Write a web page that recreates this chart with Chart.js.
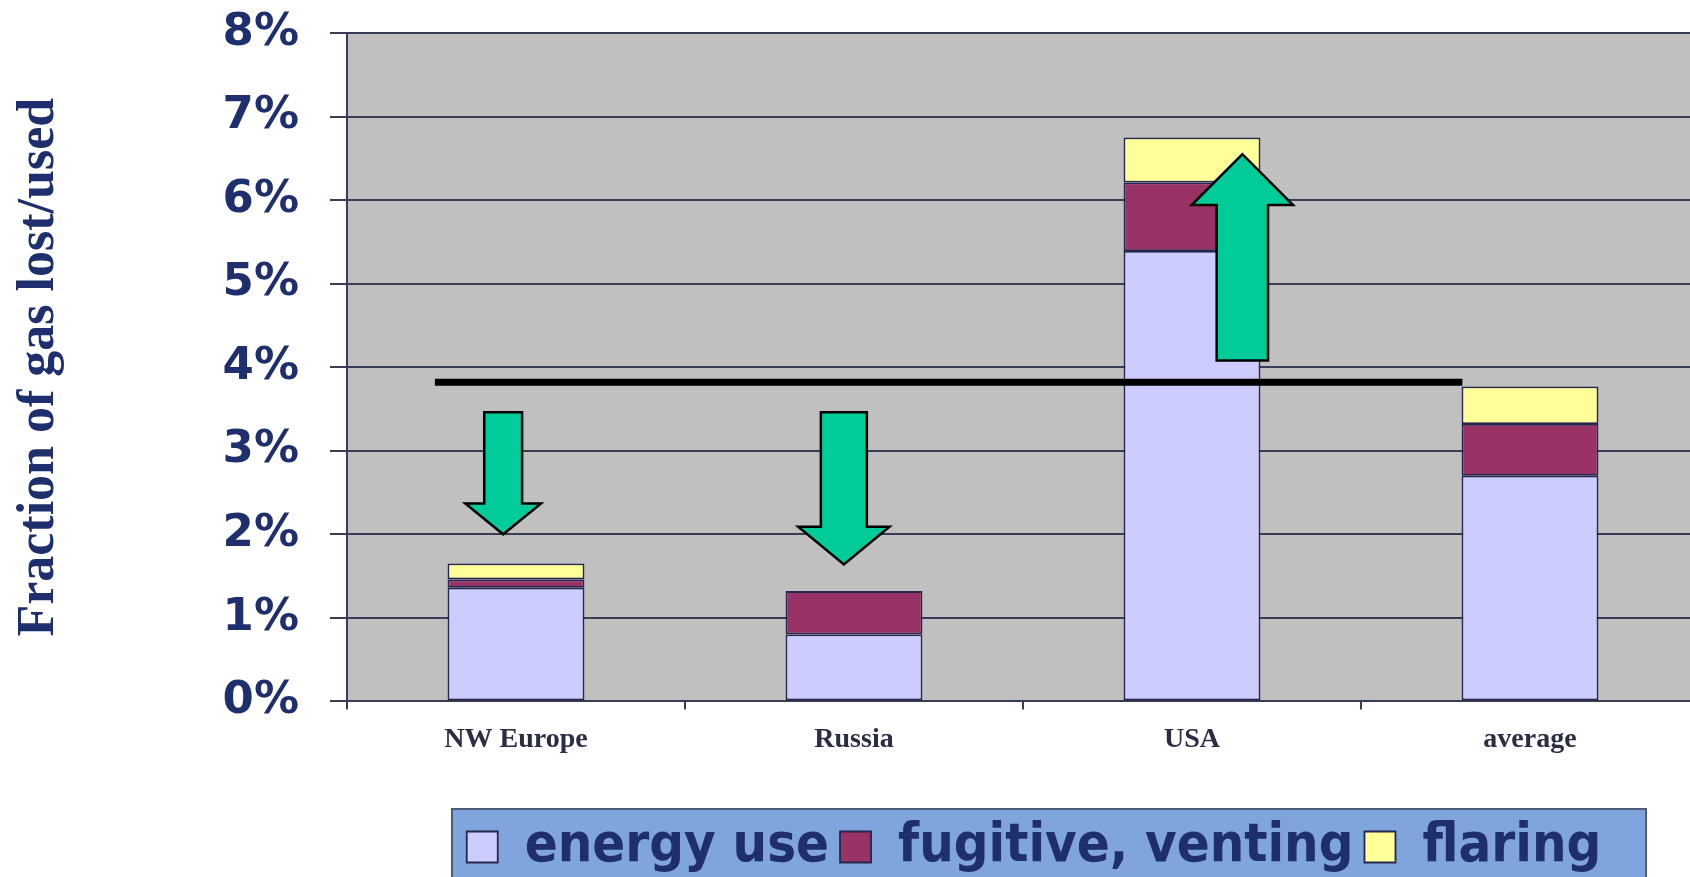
<!DOCTYPE html>
<html>
<head>
<meta charset="utf-8">
<script src="https://cdn.jsdelivr.net/npm/chart.js@4.4.1/dist/chart.umd.min.js"></script>
<style>
html, body { margin: 0; padding: 0; background: #ffffff; overflow: hidden; }
canvas { display: block; }
</style>
</head>
<body>
<canvas id="c" width="1700" height="877" style="width:1700px;height:877px"></canvas>
<script>
// ---- data ----
const categories = ['NW Europe', 'Russia', 'USA', 'average'];
const energyUse = [1.36, 0.80, 5.39, 2.70];
const fugitiveVenting = [0.10, 0.52, 0.82, 0.62];
const flaring = [0.19, 0.00, 0.54, 0.45];
const seriesNames = ['energy use', 'fugitive, venting', 'flaring'];
const yTickLabels = ['0%', '1%', '2%', '3%', '4%', '5%', '6%', '7%', '8%'];
const yAxisTitle = 'Fraction of gas lost/used';

// ---- annotations (x in category-index units, y in percent) ----
const refLineFrom = [-0.24];
const refLineTo = [2.80];
const refLineValue = [3.82];
const arrowX = [-0.038, 0.970, 2.149];
const arrowTail = [3.46, 3.46, 4.08];
const arrowHeadBase = [2.37, 2.09, 5.94];
const arrowTip = [2.00, 1.64, 6.55];
const arrowShaftHalf = [0.056, 0.068, 0.076];
const arrowHeadHalf = [0.112, 0.135, 0.150];

const NAVY = '#1f2f6e';
const GRID = '#383d55';

// legend panel frame
const legendPanel = { left: 452, right: 1646, top: 809 };

const backgrounds = {
  id: 'backgrounds',
  afterLayout(chart) {
    const lg = chart.legend;
    lg.left = legendPanel.left - 15;
    lg.right = legendPanel.right - 15;
    lg.top = legendPanel.top;
    lg.bottom = chart.height;
  },
  beforeDraw(chart) {
    const { ctx, chartArea: a } = chart;
    ctx.save();
    ctx.fillStyle = '#C0C0C0';
    ctx.fillRect(a.left, a.top, a.right - a.left, a.bottom - a.top);
    const p = legendPanel;
    ctx.fillStyle = '#80A4DC';
    ctx.fillRect(p.left, p.top, p.right - p.left, chart.height - p.top + 10);
    ctx.strokeStyle = '#4e5c7a';
    ctx.lineWidth = 2;
    ctx.strokeRect(p.left, p.top, p.right - p.left, chart.height - p.top + 10);
    ctx.restore();
  }
};

const annotations = {
  id: 'annotations',
  afterDatasetsDraw(chart) {
    const { ctx, scales: { x, y } } = chart;
    const catW = x.getPixelForValue(1) - x.getPixelForValue(0);
    ctx.save();
    ctx.strokeStyle = '#000';
    ctx.lineWidth = 7;
    ctx.lineCap = 'butt';
    for (let i = 0; i < refLineValue.length; i++) {
      ctx.beginPath();
      ctx.moveTo(x.getPixelForValue(refLineFrom[i]), y.getPixelForValue(refLineValue[i]));
      ctx.lineTo(x.getPixelForValue(refLineTo[i]), y.getPixelForValue(refLineValue[i]));
      ctx.stroke();
    }
    arrowX.forEach((cx, i) => {
      const px = x.getPixelForValue(cx);
      const sw = arrowShaftHalf[i] * catW;
      const hw = arrowHeadHalf[i] * catW;
      const yt = y.getPixelForValue(arrowTail[i]);
      const yb = y.getPixelForValue(arrowHeadBase[i]);
      const yp = y.getPixelForValue(arrowTip[i]);
      ctx.beginPath();
      ctx.moveTo(px - sw, yt);
      ctx.lineTo(px + sw, yt);
      ctx.lineTo(px + sw, yb);
      ctx.lineTo(px + hw, yb);
      ctx.lineTo(px, yp);
      ctx.lineTo(px - hw, yb);
      ctx.lineTo(px - sw, yb);
      ctx.closePath();
      ctx.fillStyle = '#00CC99';
      ctx.fill();
      ctx.lineWidth = 2.5;
      ctx.lineJoin = 'miter';
      ctx.strokeStyle = '#000';
      ctx.stroke();
    });
    ctx.restore();
  }
};

const barCommon = {
  borderColor: '#26264f',
  borderWidth: 1.8,
  borderSkipped: false,
  barPercentage: 0.405,
  categoryPercentage: 1.0,
  stack: 's'
};

new Chart(document.getElementById('c'), {
  type: 'bar',
  data: {
    labels: categories,
    datasets: [
      Object.assign({ label: seriesNames[0], data: energyUse, backgroundColor: '#CCCCFF' }, barCommon),
      Object.assign({ label: seriesNames[1], data: fugitiveVenting, backgroundColor: '#993366' }, barCommon),
      Object.assign({ label: seriesNames[2], data: flaring, backgroundColor: '#FFFF99' }, barCommon)
    ]
  },
  options: {
    responsive: false,
    animation: false,
    devicePixelRatio: 1,
    layout: { padding: { top: 33, right: 1, bottom: 31, left: 0 } },
    plugins: {
      tooltip: { enabled: false },
      legend: {
        position: 'bottom',
        labels: {
          color: NAVY,
          font: { family: "'DejaVu Sans Condensed', 'DejaVu Sans', sans-serif", size: 54, weight: 'bold' },
          boxWidth: 31,
          boxHeight: 31,
          padding: 11
        }
      }
    },
    scales: {
      x: {
        stacked: true,
        grid: { display: true, drawOnChartArea: false, drawTicks: true, tickLength: 8, color: GRID, lineWidth: 2, offset: true },
        border: { display: true, color: GRID, width: 2 },
        ticks: {
          color: '#2b2d44',
          font: { family: "'Liberation Serif', serif", size: 28, weight: 'bold' },
          padding: 14,
          maxRotation: 0,
          autoSkip: false
        }
      },
      y: {
        stacked: true,
        min: 0,
        max: 8,
        ticks: {
          stepSize: 1,
          callback: (v, i) => yTickLabels[i],
          color: NAVY,
          font: { family: "'DejaVu Sans', sans-serif", size: 45, weight: 'bold' },
          padding: 31
        },
        grid: { color: GRID, lineWidth: 2, tickLength: 17, drawTicks: true },
        border: { display: true, color: GRID, width: 2 },
        title: {
          display: true,
          text: yAxisTitle,
          color: NAVY,
          font: { family: "'Liberation Serif', serif", size: 52, weight: 'bold' },
          padding: { top: 8, bottom: 0 }
        },
        afterFit(s) { s.width = 347; s.paddingTop = 20; s.paddingBottom = 20; }
      }
    }
  },
  plugins: [backgrounds, annotations]
});
</script>
</body>
</html>
